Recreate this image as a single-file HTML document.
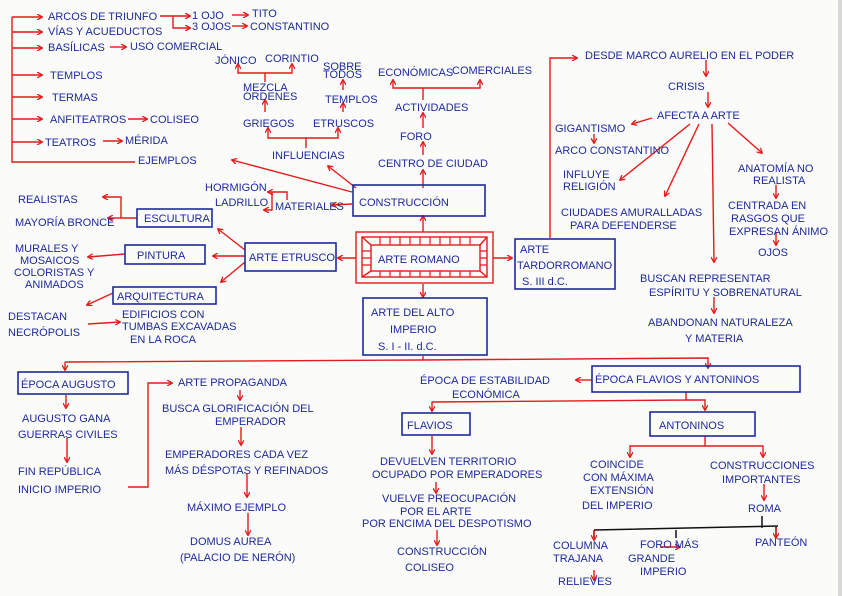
<!DOCTYPE html>
<html><head><meta charset="utf-8"><style>
html,body{margin:0;padding:0;background:#fbfbfa;}
svg{display:block}
text{font-family:"Liberation Sans",sans-serif;fill:#1c2a9c;font-size:11px;}
.r{stroke:#e41b1b;stroke-width:1.4;fill:none}
.b{stroke:#1c2a9c;stroke-width:1.6;fill:none}
</style></head><body>
<svg width="842" height="596" viewBox="0 0 842 596" xmlns="http://www.w3.org/2000/svg">
<defs><marker id="a" markerUnits="userSpaceOnUse" markerWidth="6" markerHeight="6" refX="5" refY="3" orient="auto"><path d="M0,0 L5.5,3 L0,6" fill="none" stroke="#e41b1b" stroke-width="1.3"/></marker></defs>
<rect x="838" y="0" width="4" height="596" fill="#d8d8d8"/>

<g class="r">
<path d="M12,17 V162 H135"/>
<path d="M12,17 H42" marker-end="url(#a)"/><path d="M12,32 H42" marker-end="url(#a)"/><path d="M12,48 H42" marker-end="url(#a)"/>
<path d="M12,75 H42" marker-end="url(#a)"/><path d="M12,97 H42" marker-end="url(#a)"/><path d="M12,119 H42" marker-end="url(#a)"/><path d="M12,142 H42" marker-end="url(#a)"/>
<path d="M160,16 H190" marker-end="url(#a)"/><path d="M173,16 V28 H190" marker-end="url(#a)"/>
<path d="M232,15 H248" marker-end="url(#a)"/><path d="M232,26 H247" marker-end="url(#a)"/>
<path d="M110,47 H126" marker-end="url(#a)"/>
<path d="M128,119 H147" marker-end="url(#a)"/><path d="M103,141 H122" marker-end="url(#a)"/>
<path d="M352,192 L232,160" marker-end="url(#a)"/>
<path d="M356,188 L328,166" marker-end="url(#a)"/>
<path d="M352,204 L332,205" marker-end="url(#a)"/>
<path d="M423,188 V170" marker-end="url(#a)"/>
<path d="M423,155 V142" marker-end="url(#a)"/>
<path d="M423,128 V113" marker-end="url(#a)"/>
<path d="M423,100 V88 H480 V80" marker-end="url(#a)"/><path d="M423,88 H393 V80" marker-end="url(#a)"/>
<path d="M306,148 V138 H268 V128" marker-end="url(#a)"/><path d="M306,138 H338 V128" marker-end="url(#a)"/>
<path d="M265,112 V100" marker-end="url(#a)"/>
<path d="M265,82 V73 H238 V64" marker-end="url(#a)"/><path d="M265,73 H292 V64" marker-end="url(#a)"/>
<path d="M343,112 V103" marker-end="url(#a)"/><path d="M343,90 V80" marker-end="url(#a)"/>
<path d="M287,200 V192 H272 V210 H264" marker-end="url(#a)"/><path d="M272,192 H268" marker-end="url(#a)"/>
<path d="M423,232 V216" marker-end="url(#a)"/>
<path d="M356,258 H338" marker-end="url(#a)"/>
<path d="M493,258 H512" marker-end="url(#a)"/>
<path d="M423,284 V297" marker-end="url(#a)"/>
<path d="M245,250 L218,229" marker-end="url(#a)"/>
<path d="M245,256 H213" marker-end="url(#a)"/>
<path d="M245,262 L221,282" marker-end="url(#a)"/>
<path d="M137,218 H121 V197 H103" marker-end="url(#a)"/><path d="M121,218 H108" marker-end="url(#a)"/>
<path d="M125,254 L88,257" marker-end="url(#a)"/>
<path d="M113,293 L87,305" marker-end="url(#a)"/>
<path d="M88,324 L120,322" marker-end="url(#a)"/>
<path d="M550,238 V58 H577" marker-end="url(#a)"/>
<path d="M706,60 V76" marker-end="url(#a)"/>
<path d="M708,92 V107" marker-end="url(#a)"/>
<path d="M652,118 L632,124" marker-end="url(#a)"/>
<path d="M594,134 V143" marker-end="url(#a)"/>
<path d="M690,124 L620,180" marker-end="url(#a)"/>
<path d="M699,124 L665,196" marker-end="url(#a)"/>
<path d="M712,124 L714,262" marker-end="url(#a)"/>
<path d="M728,123 L762,153" marker-end="url(#a)"/>
<path d="M776,185 V198" marker-end="url(#a)"/>
<path d="M776,232 V245" marker-end="url(#a)"/>
<path d="M714,297 V313" marker-end="url(#a)"/>
<path d="M423,356 V360"/>
<path d="M65,362 L420,360 L708,358 V368" marker-end="url(#a)"/>
<path d="M65,362 V370" marker-end="url(#a)"/>
<path d="M66,395 V408" marker-end="url(#a)"/>
<path d="M67,438 V462" marker-end="url(#a)"/>
<path d="M128,487 H148 V383 H172" marker-end="url(#a)"/>
<path d="M240,390 V400" marker-end="url(#a)"/>
<path d="M241,427 V445" marker-end="url(#a)"/>
<path d="M247,474 V497" marker-end="url(#a)"/>
<path d="M248,513 V535" marker-end="url(#a)"/>
<path d="M592,380 H576" marker-end="url(#a)"/>
<path d="M686,392 V400 L432,402 V411" marker-end="url(#a)"/><path d="M686,400 H705 V410" marker-end="url(#a)"/>
<path d="M432,436 V454" marker-end="url(#a)"/>
<path d="M436,482 V493" marker-end="url(#a)"/>
<path d="M437,530 V545" marker-end="url(#a)"/>
<path d="M705,436 V446 H630 V457" marker-end="url(#a)"/><path d="M705,446 H763 V457" marker-end="url(#a)"/>
<path d="M764,484 V500" marker-end="url(#a)"/>
<path d="M660,547 H680" marker-end="url(#a)"/>
<path d="M594,570 V580" marker-end="url(#a)"/>
</g>
<g stroke="#111" stroke-width="1.5" fill="none">
<path d="M594,530 L778,526 M762,516 V528"/>
<path d="M594,530 V538 M676,530 V538 M776,527 V537"/>
</g>
<g class="r"><path d="M776,528 V538" marker-end="url(#a)"/><path d="M594,530 V540" marker-end="url(#a)"/></g>

<g class="b">
<rect x="353" y="185" width="132" height="31"/>
<rect x="137" y="209" width="75" height="18"/>
<rect x="125" y="245" width="80" height="19"/>
<rect x="245" y="243" width="91" height="28"/>
<rect x="113" y="287" width="103" height="17"/>
<rect x="363" y="298" width="124" height="57"/>
<rect x="515" y="239" width="100" height="50"/>
<rect x="18" y="372" width="110" height="22"/>
<rect x="592" y="366" width="208" height="26"/>
<rect x="402" y="413" width="68" height="22"/>
<rect x="650" y="412" width="105" height="24"/>
</g>
<g class="r" stroke-width="1.8">
<rect x="356" y="232" width="137" height="51"/>
<rect x="362" y="237" width="125" height="40"/>
<rect x="371" y="245" width="109" height="26"/>
<path d="M362,237 L371,245 M487,237 L480,245 M362,277 L371,271 M487,277 L480,271"/>
<path stroke-width="1.2" d="M380,237V245M390,237V245M400,237V245M410,237V245M420,237V245M430,237V245M440,237V245M450,237V245M460,237V245M470,237V245M380,271V277M390,271V277M400,271V277M410,271V277M420,271V277M430,271V277M440,271V277M450,271V277M460,271V277M470,271V277M362,251H371M362,258H371M362,265H371M480,251H487M480,258H487M480,265H487"/>
</g>

<text x="48" y="20">ARCOS DE TRIUNFO</text>
<text x="192" y="19">1 OJO</text><text x="252" y="17">TITO</text>
<text x="192" y="30">3 OJOS</text><text x="250" y="30">CONSTANTINO</text>
<text x="48" y="35">VÍAS Y ACUEDUCTOS</text>
<text x="48" y="51">BASÍLICAS</text><text x="130" y="50">USO COMERCIAL</text>
<text x="50" y="79" font-size="12">TEMPLOS</text>
<text x="52" y="101" font-size="12">TERMAS</text>
<text x="50" y="123">ANFITEATROS</text><text x="150" y="123" font-size="12">COLISEO</text>
<text x="45" y="146">TEATROS</text><text x="125" y="144">MÉRIDA</text>
<text x="138" y="164" font-size="12">EJEMPLOS</text>
<text x="215" y="64">JÓNICO</text><text x="265" y="62">CORINTIO</text>
<text x="243" y="91" font-size="10">MEZCLA</text><text x="243" y="100" font-size="10">ÓRDENES</text>
<text x="243" y="127" font-size="12">GRIEGOS</text><text x="313" y="127" font-size="12">ETRUSCOS</text>
<text x="272" y="159" font-size="12">INFLUENCIAS</text>
<text x="323" y="70" font-size="9">SOBRE</text><text x="323" y="78" font-size="9">TODOS</text>
<text x="325" y="103" font-size="10">TEMPLOS</text>
<text x="378" y="76" font-size="10">ECONÓMICAS</text><text x="452" y="74" font-size="10">COMERCIALES</text>
<text x="395" y="111" font-size="10">ACTIVIDADES</text>
<text x="400" y="140" font-size="12">FORO</text>
<text x="378" y="167">CENTRO DE CIUDAD</text>
<text x="359" y="206" font-size="13">CONSTRUCCIÓN</text>
<text x="205" y="191" font-size="10">HORMIGÓN</text><text x="215" y="206" font-size="10">LADRILLO</text><text x="275" y="210" font-size="9">MATERIALES</text>
<text x="144" y="222" font-size="11">ESCULTURA</text>
<text x="18" y="203">REALISTAS</text><text x="15" y="226" font-size="10">MAYORÍA BRONCE</text>
<text x="137" y="259" font-size="12">PINTURA</text>
<text x="249" y="261" font-size="11">ARTE ETRUSCO</text>
<text x="378" y="263" font-size="13">ARTE ROMANO</text>
<text x="15" y="252" font-size="10">MURALES Y</text><text x="20" y="264" font-size="10">MOSAICOS</text><text x="14" y="276" font-size="10">COLORISTAS Y</text><text x="25" y="288" font-size="10">ANIMADOS</text>
<text x="117" y="300" font-size="11">ARQUITECTURA</text>
<text x="8" y="320" font-size="10">DESTACAN</text><text x="8" y="336" font-size="10">NECRÓPOLIS</text>
<text x="122" y="318" font-size="10">EDIFICIOS CON</text><text x="122" y="330" font-size="10">TUMBAS EXCAVADAS</text><text x="130" y="343" font-size="10">EN LA ROCA</text>
<text x="371" y="316" font-size="13">ARTE DEL ALTO</text><text x="390" y="333" font-size="13">IMPERIO</text><text x="378" y="350" font-size="13">S. I - II. d.C.</text>
<text x="520" y="253" font-size="11">ARTE</text><text x="517" y="269" font-size="11">TARDORROMANO</text><text x="522" y="285" font-size="12">S. III d.C.</text>
<text x="585" y="59">DESDE MARCO AURELIO EN EL PODER</text>
<text x="668" y="90" font-size="14">CRISIS</text>
<text x="657" y="119" font-size="11">AFECTA A ARTE</text>
<text x="555" y="132" font-size="11">GIGANTISMO</text>
<text x="555" y="154" font-size="10">ARCO CONSTANTINO</text>
<text x="563" y="178" font-size="10">INFLUYE</text><text x="563" y="190" font-size="10">RELIGIÓN</text>
<text x="561" y="216" font-size="10">CIUDADES AMURALLADAS</text><text x="570" y="229" font-size="10">PARA DEFENDERSE</text>
<text x="738" y="172" font-size="10">ANATOMÍA NO</text><text x="753" y="184" font-size="10">REALISTA</text>
<text x="728" y="209" font-size="11">CENTRADA EN</text><text x="731" y="222" font-size="11">RASGOS QUE</text><text x="729" y="235" font-size="11">EXPRESAN ÁNIMO</text>
<text x="758" y="256" font-size="11">OJOS</text>
<text x="640" y="282" font-size="11">BUSCAN REPRESENTAR</text><text x="649" y="296" font-size="11">ESPÍRITU Y SOBRENATURAL</text>
<text x="648" y="326" font-size="11">ABANDONAN NATURALEZA</text><text x="685" y="342" font-size="11">Y MATERIA</text>
<text x="21" y="388" font-size="11">ÉPOCA AUGUSTO</text>
<text x="22" y="422" font-size="10">AUGUSTO GANA</text><text x="18" y="438" font-size="12">GUERRAS CIVILES</text>
<text x="18" y="475" font-size="11">FIN REPÚBLICA</text><text x="18" y="493" font-size="11">INICIO IMPERIO</text>
<text x="178" y="386" font-size="10">ARTE PROPAGANDA</text>
<text x="162" y="412" font-size="11">BUSCA GLORIFICACIÓN DEL</text><text x="215" y="425" font-size="10">EMPERADOR</text>
<text x="165" y="458" font-size="10">EMPERADORES CADA VEZ</text><text x="165" y="474" font-size="10">MÁS DÉSPOTAS Y REFINADOS</text>
<text x="187" y="511" font-size="10">MÁXIMO EJEMPLO</text>
<text x="190" y="545" font-size="11">DOMUS AUREA</text><text x="180" y="561" font-size="10">(PALACIO DE NERÓN)</text>
<text x="420" y="384" font-size="11">ÉPOCA DE ESTABILIDAD</text><text x="452" y="398" font-size="10">ECONÓMICA</text>
<text x="595" y="383" font-size="11">ÉPOCA FLAVIOS Y ANTONINOS</text>
<text x="407" y="429" font-size="11">FLAVIOS</text>
<text x="659" y="429" font-size="11">ANTONINOS</text>
<text x="380" y="465" font-size="10">DEVUELVEN TERRITORIO</text><text x="372" y="478" font-size="10">OCUPADO POR EMPERADORES</text>
<text x="382" y="502" font-size="10">VUELVE PREOCUPACIÓN</text><text x="400" y="515" font-size="10">POR EL ARTE</text><text x="362" y="527" font-size="9">POR ENCIMA DEL DESPOTISMO</text>
<text x="397" y="555" font-size="11">CONSTRUCCIÓN</text><text x="405" y="571" font-size="11">COLISEO</text>
<text x="590" y="468" font-size="11">COINCIDE</text><text x="583" y="481" font-size="10">CON MÁXIMA</text><text x="590" y="494" font-size="10">EXTENSIÓN</text><text x="582" y="509" font-size="10">DEL IMPERIO</text>
<text x="710" y="469" font-size="11">CONSTRUCCIONES</text><text x="722" y="483" font-size="11">IMPORTANTES</text>
<text x="748" y="512" font-size="11">ROMA</text>
<text x="553" y="549" font-size="9">COLUMNA</text><text x="553" y="562" font-size="9">TRAJANA</text>
<text x="640" y="548" font-size="10">FORO MÁS</text><text x="628" y="562" font-size="10">GRANDE</text><text x="640" y="575" font-size="10">IMPERIO</text>
<text x="755" y="546" font-size="10">PANTEÓN</text>
<text x="558" y="585" font-size="9">RELIEVES</text>
</svg>
</body></html>
